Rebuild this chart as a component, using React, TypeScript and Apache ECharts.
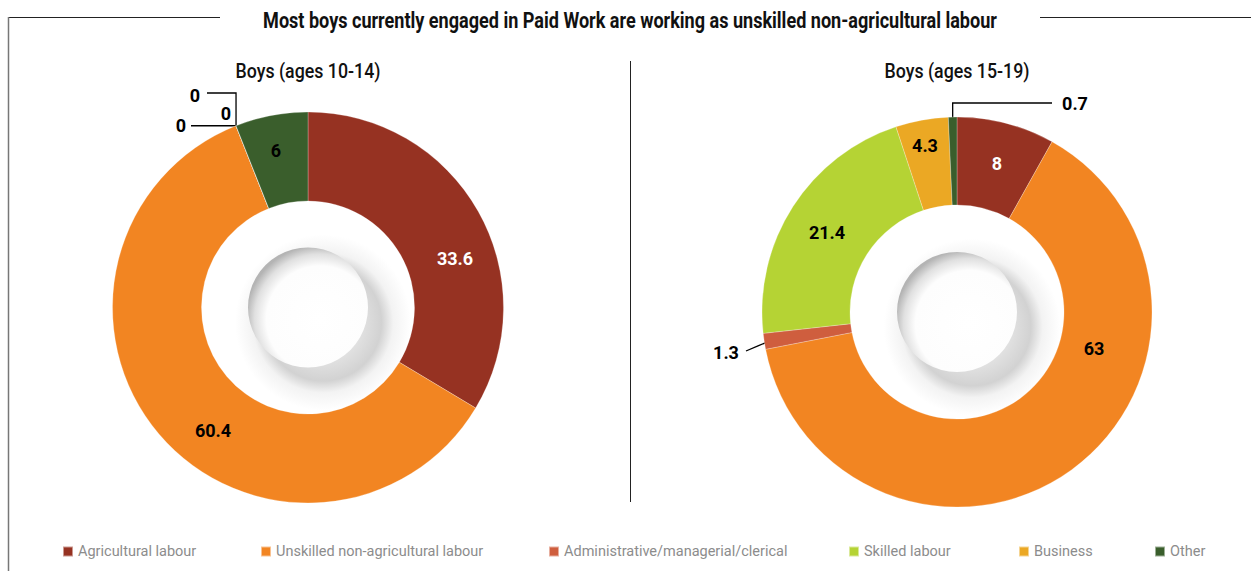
import React, { useEffect, useRef } from "react";
import * as echarts from "echarts";

const categories = [
  "Agricultural labour",
  "Unskilled non-agricultural labour",
  "Administrative/managerial/clerical",
  "Skilled labour",
  "Business",
  "Other",
];
const boys1014 = [33.6, 60.4, 0, 0, 0, 6];
const boys1519 = [8, 63, 1.3, 21.4, 4.3, 0.7];
const colors = ["#963222", "#F28522", "#CF5E3E", "#B5D334", "#EBA824", "#3A5E2C"];

const titleText =
  "Most boys currently engaged in Paid Work are working as unskilled non-agricultural labour";
const subtitles = ["Boys (ages 10-14)", "Boys (ages 15-19)"];

// layout (not data)
const FONT = "Roboto, 'Liberation Sans', sans-serif";
const pies = [
  { center: [308, 307.5], r0: 106.5, r: 195.5 },
  { center: [957, 312], r0: 107, r: 195 },
];
const legendLeft = [57, 255, 543, 843, 1013, 1149];
// label centres per slice
const labelPos: number[][][] = [
  [[455, 258], [213, 430], [181, 125], [226, 113], [195, 95], [276, 150]],
  [[997, 163], [1094, 348], [726, 352], [827, 232], [925, 145], [1075, 103]],
];
const labelWhite = [[true, false, false, false, false, false], [true, false, false, false, false, false]];

function sliceAngle(values: number[], idx: number, frac: number) {
  const total = values.reduce((a, b) => a + b, 0);
  let cum = 0;
  for (let i = 0; i < idx; i++) cum += values[i];
  cum += values[idx] * frac;
  return (cum / total) * Math.PI * 2;
}
function polar(c: number[], r: number, a: number) {
  return [c[0] + r * Math.sin(a), c[1] - r * Math.cos(a)];
}
function measure(text: string, font: string) {
  const ctx = document.createElement("canvas").getContext("2d")!;
  ctx.font = font;
  return ctx.measureText(text).width;
}

export default function App() {
  const ref = useRef<HTMLDivElement>(null);
  useEffect(() => {
    document.body.style.margin = "0";
    const chart = echarts.init(ref.current!, null, { renderer: "svg" });
    const seriesData = [boys1014, boys1519];

    const linePts = (si: number, di: number): number[][] | null => {
      const vals = seriesData[si];
      const p = pies[si];
      if (si === 0 && di === 2) {
        const a = polar(p.center, p.r, sliceAngle(vals, di, 0.5));
        return [a, [a[0], a[1]], [191, a[1]]];
      }
      if (si === 0 && di === 4) {
        const a = polar(p.center, p.r, sliceAngle(vals, di, 0.5));
        return [a, [a[0], 93], [207, 93]];
      }
      if (si === 1 && di === 2) {
        const a = polar(p.center, p.r - 7, sliceAngle(vals, di, 0.5));
        return [a, [(a[0] + 746) / 2, (a[1] + 351) / 2], [746, 351]];
      }
      if (si === 1 && di === 5) {
        const a = polar(p.center, p.r - 1, sliceAngle(vals, di, 0.5));
        return [a, [a[0], 103], [1052, 103]];
      }
      return null;
    };

    const mkSeries = (si: number) => ({
      type: "pie",
      center: pies[si].center,
      radius: [pies[si].r0, pies[si].r],
      startAngle: 90,
      clockwise: true,
      avoidLabelOverlap: false,
      minShowLabelAngle: 0,
      itemStyle: { borderColor: "rgba(255,255,255,0.5)", borderWidth: 0.5 },
      label: {
        show: true,
        position: "outside",
        formatter: "{c}",
        fontFamily: FONT,
        fontWeight: "bold",
        fontSize: 18,
        color: "#000",
      },
      labelLine: { show: false, lineStyle: { color: "#000", width: 1.3 } },
      emphasis: { disabled: true },
      data: seriesData[si].map((v, di) => ({
        name: categories[di],
        value: v,
        itemStyle: { color: colors[di] },
        label: { color: labelWhite[si][di] ? "#fff" : "#000" },
        labelLine: { show: linePts(si, di) != null },
      })),
      labelLayout: (params: any) => {
        const pos = labelPos[params.seriesIndex][params.dataIndex];
        const out: any = {
          x: pos[0],
          y: pos[1],
          align: "center",
          verticalAlign: "middle",
          hideOverlap: false,
        };
        const lp = linePts(params.seriesIndex, params.dataIndex);
        if (lp) out.labelLinePoints = lp;
        return out;
      },
    });

    const holes: any[] = [];
    pies.forEach((p) => {
      holes.push({
        type: "circle",
        shape: { cx: p.center[0], cy: p.center[1], r: p.r0 },
        style: {
          fill: {
            type: "radial",
            x: 0.57,
            y: 0.57,
            r: 0.55,
            colorStops: [
              { offset: 0, color: "#ffffff" },
              { offset: 0.5, color: "#d2d2d2" },
              { offset: 0.6, color: "#f3f3f3" },
              { offset: 0.75, color: "#ffffff" },
              { offset: 1, color: "#ffffff" },
            ],
          },
        },
        z: 1,
      });
      holes.push({
        type: "circle",
        shape: { cx: p.center[0], cy: p.center[1], r: 60 },
        style: {
          fill: {
            type: "radial",
            x: 0.6,
            y: 0.6,
            r: 0.62,
            colorStops: [
              { offset: 0, color: "#ffffff" },
              { offset: 0.72, color: "#fdfdfd" },
              { offset: 0.88, color: "#e0e0e0" },
              { offset: 1, color: "#b4b4b4" },
            ],
          },
        },
        z: 2,
      });
    });

    const titleFont = `bold 22px Roboto`;
    const titleScale = 734 / measure(titleText, titleFont);
    const subFont = `500 20px Roboto`;

    chart.setOption({
      animation: false,
      backgroundColor: "#fff",
      legend: categories.map((c, i) => ({
        data: [c],
        left: legendLeft[i],
        top: 539,
        icon: "rect",
        itemWidth: 10,
        itemHeight: 10,
        selectedMode: false,
        textStyle: { fontFamily: FONT, fontSize: 14.5, color: "#8c8c8c" },
      })),
      graphic: [
        { type: "line", shape: { x1: 8, y1: 17.5, x2: 220, y2: 17.5 }, style: { stroke: "#222", lineWidth: 1 } },
        { type: "line", shape: { x1: 1040, y1: 17.5, x2: 1251, y2: 17.5 }, style: { stroke: "#222", lineWidth: 1 } },
        { type: "line", shape: { x1: 8.5, y1: 17, x2: 8.5, y2: 571 }, style: { stroke: "#777", lineWidth: 1.5 } },
        { type: "line", shape: { x1: 630.5, y1: 61, x2: 630.5, y2: 502 }, style: { stroke: "#222", lineWidth: 1 } },
        {
          type: "text",
          x: 630,
          y: 20,
          scaleX: titleScale,
          style: {
            text: titleText,
            font: titleFont,
            fill: "#111",
            align: "center",
            verticalAlign: "middle",
          },
        },
        ...pies.map((p, i) => ({
          type: "text",
          x: p.center[0],
          y: 71,
          scaleX: 145 / measure(subtitles[i], subFont),
          style: {
            text: subtitles[i],
            font: subFont,
            fill: "#111",
            align: "center",
            verticalAlign: "middle",
          },
        })),
        ...holes,
      ],
      series: [mkSeries(0), mkSeries(1)],
    });
    return () => chart.dispose();
  }, []);
  return (
    <div
      ref={ref}
      style={{ width: 1251, height: 571, position: "absolute", left: 0, top: 0 }}
    />
  );
}
